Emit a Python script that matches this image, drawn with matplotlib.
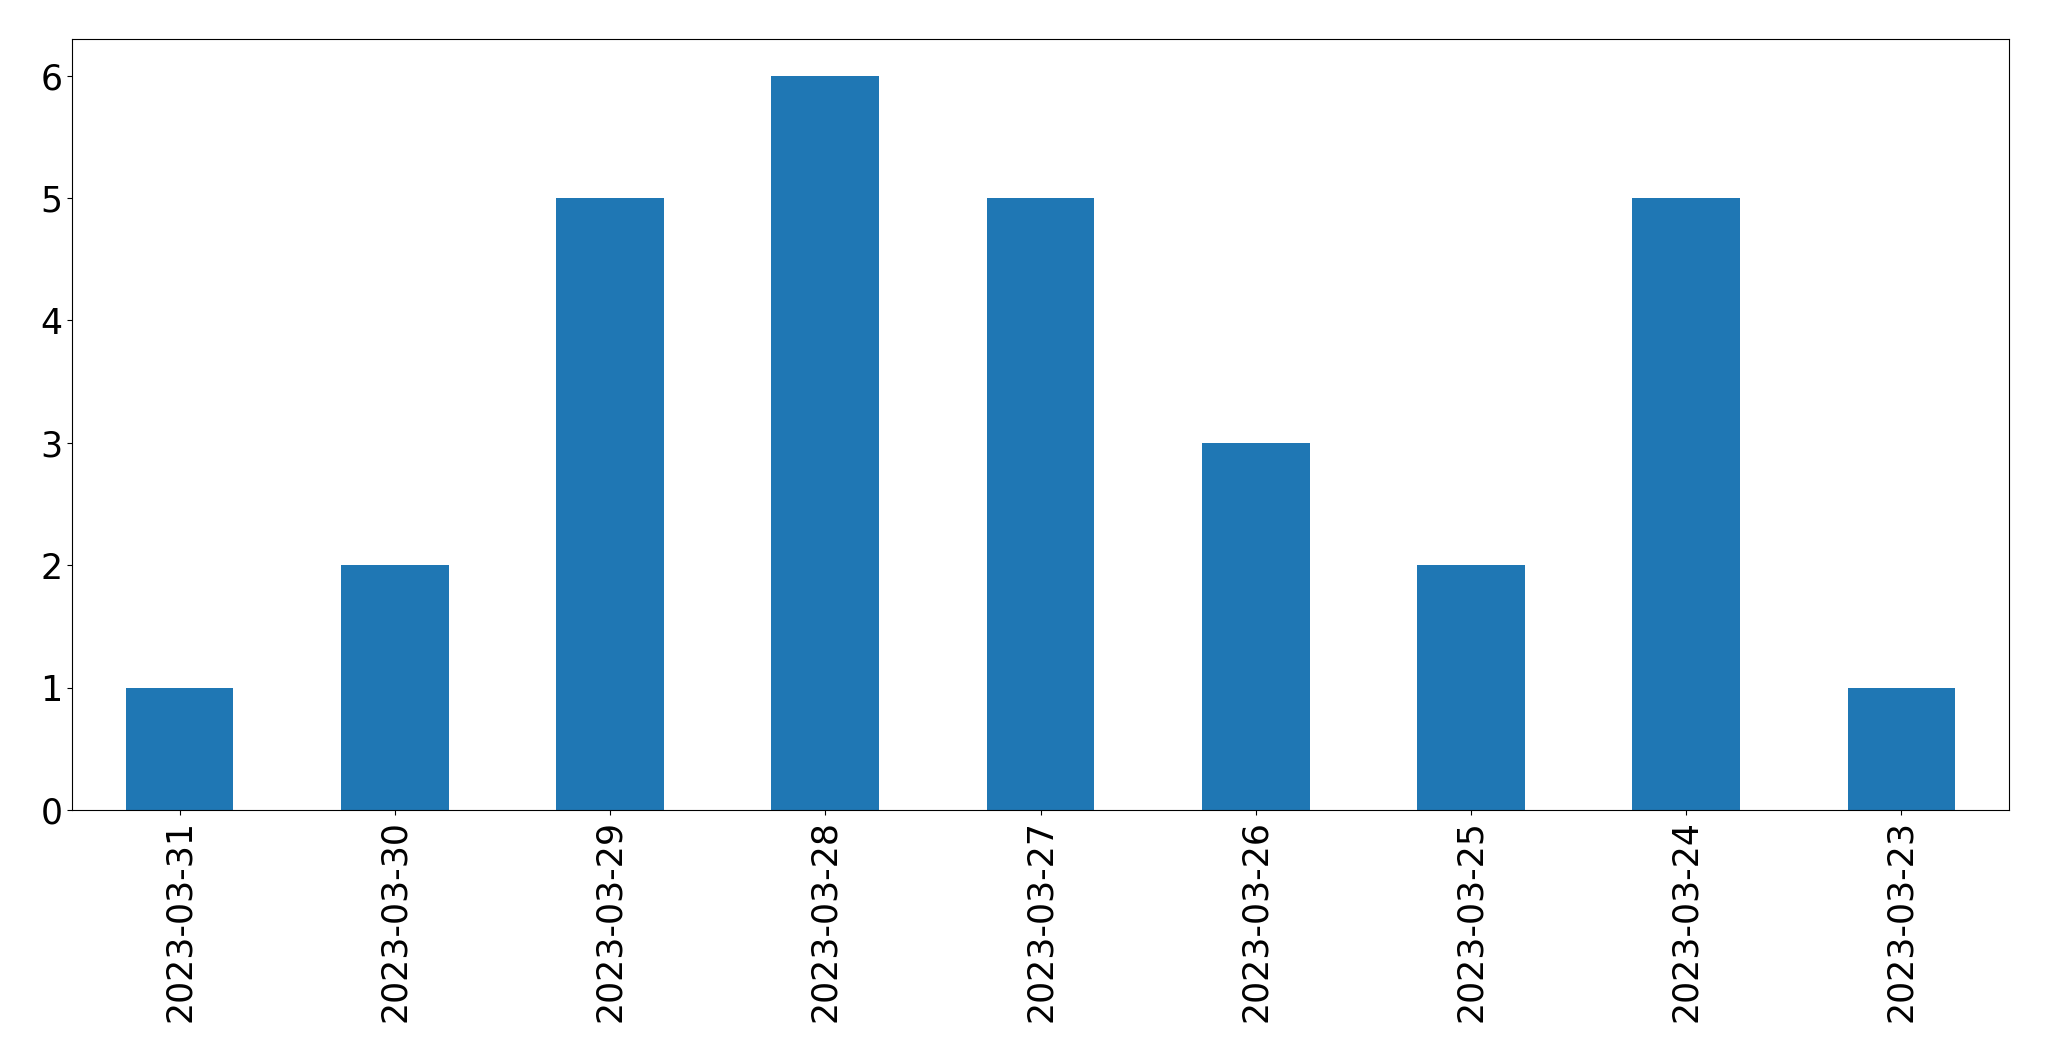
import matplotlib
matplotlib.use("Agg")
import matplotlib.pyplot as plt

dates = ["2023-03-31", "2023-03-30", "2023-03-29", "2023-03-28", "2023-03-27",
         "2023-03-26", "2023-03-25", "2023-03-24", "2023-03-23"]
counts = [1, 2, 5, 6, 5, 3, 2, 5, 1]

fig = plt.figure(figsize=(20.49, 10.61), dpi=100)
ax = fig.add_axes([72/2049, 1-810/1061, (2009-72)/2049, (810-39)/1061])
x = range(len(dates))
ax.bar(x, counts, width=0.5, color="#1f77b4")
ax.set_xticks(list(x))
ax.set_xticklabels(dates, rotation=90, fontsize=25)
ax.tick_params(axis="y", labelsize=25)
ax.set_xlim(-0.5, len(dates) - 0.5)
ax.set_ylim(0, 6.3)
fig.savefig("out.png", dpi=100)
